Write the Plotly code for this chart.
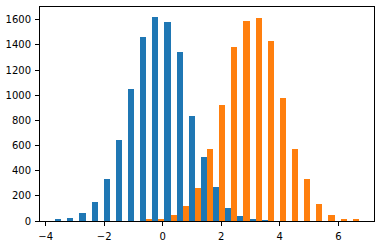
import plotly.graph_objects as go

# Histogram bin centres (bin width 0.415, first edge -3.675)
bin_centers = [-3.4675, -3.0525, -2.6375, -2.2225, -1.8075, -1.3925, -0.9775,
               -0.5625, -0.1475, 0.2675, 0.6825, 1.0975, 1.5125, 1.9275,
               2.3425, 2.7575, 3.1725, 3.5875, 4.0025, 4.4175, 4.8325,
               5.2475, 5.6625, 6.0775, 6.4925]
bin_width = 0.415

counts_a = [10, 26, 63, 149, 337, 642, 1049, 1464, 1621, 1582, 1347, 838, 509,
            274, 102, 39, 8, 4, 0, 0, 0, 0, 0, 0, 0]
counts_b = [0, 0, 0, 0, 0, 0, 0, 8, 16, 47, 117, 266, 572, 924, 1386, 1590,
            1613, 1433, 979, 572, 337, 133, 47, 16, 8]

x_ticks = [-4, -2, 0, 2, 4, 6]
y_ticks = [0, 200, 400, 600, 800, 1000, 1200, 1400, 1600]

# matplotlib-like 5% autoscale margins
lo = bin_centers[0] - bin_width / 2
hi = bin_centers[-1] + bin_width / 2
span = hi - lo
x_range = [lo - 0.05 * span, hi + 0.05 * span]
y_range = [0, max(max(counts_a), max(counts_b)) * 1.05]

fig = go.Figure()
fig.add_trace(go.Bar(x=bin_centers, y=counts_a, marker=dict(color="#1f77b4", line=dict(width=0)),
                     showlegend=False))
fig.add_trace(go.Bar(x=bin_centers, y=counts_b, marker=dict(color="#ff7f0e", line=dict(width=0)),
                     showlegend=False))

axis_common = dict(showgrid=False, zeroline=False, showline=True, linecolor="black",
                   linewidth=1, mirror=True, ticks="outside", ticklen=4, tickwidth=1,
                   tickcolor="black", tickfont=dict(family="DejaVu Sans", size=10, color="black"))

fig.update_layout(
    width=381, height=248,
    margin=dict(l=39, r=7, t=6, b=24),
    paper_bgcolor="white", plot_bgcolor="white",
    barmode="group", bargap=0, bargroupgap=0,
    xaxis=dict(range=x_range, tickvals=x_ticks, ticklabelstandoff=2, **axis_common),
    yaxis=dict(range=y_range, tickvals=y_ticks, ticklabelstandoff=2, **axis_common),
)

fig.write_html("out.html")
